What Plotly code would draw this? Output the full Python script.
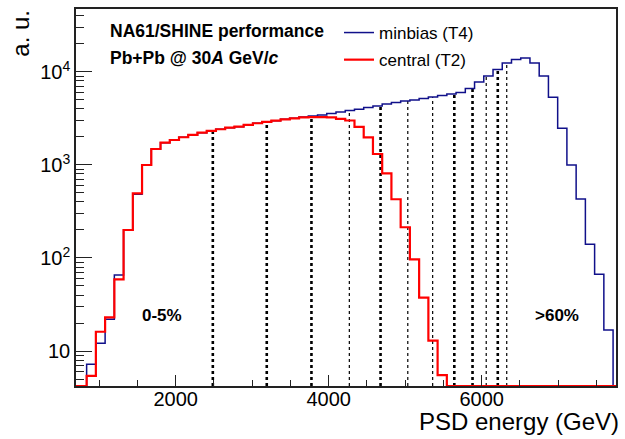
import numpy as np
import plotly.graph_objects as go

# PSD energy binning (GeV)
bin_start = 837.0
bin_width = 120.7
n_bins = 57

# Minimum-bias trigger (T4) counts per bin
minbias = [7.2, 12.1, 21.9, 65.7, 200, 484, 1000, 1486, 1738, 1857,
           1986, 2102, 2225, 2321, 2422, 2520, 2583, 2694, 2809, 2900,
           2993, 3098, 3177, 3281, 3364, 3448, 3580, 3717, 3859, 3975,
           4152, 4309, 4528, 4699, 4878, 5000, 5190, 5387, 5592, 5804,
           6025, 6650, 7805, 9056, 10640, 12500, 13620, 14150, 12500, 9056,
           5346, 2483, 1000, 430.7, 140.4, 66.8, 16.8]

# Central trigger (T2) counts per bin
central = [5.4, 16.1, 23.0, 59.0, 200, 496, 1000, 1486, 1738, 1857,
           1986, 2102, 2225, 2321, 2422, 2520, 2583, 2694, 2809, 2900,
           2993, 3098, 3177, 3243, 3265, 3265, 3243, 3126, 3007, 2563,
           1976, 1313, 814, 428, 214, 96.8, 37.4, 12.9, 5.5, 0,
           0, 0, 0, 0, 0, 0, 0, 0, 0, 0,
           0, 0, 0, 0, 0, 0, 0]

# Centrality class boundaries (GeV) and their line weight
cut_energies = [2486, 3191, 3775, 4270, 4678, 5034, 5359, 5642, 5880, 6059, 6210, 6327]
cut_heavy = [True, True, True, False, True, False, False, True, True, False, True, False]

x_range = [698, 7755]
y_range_log = [0.6237, 4.677]
floor = 10 ** y_range_log[0]

edges = bin_start + bin_width * np.arange(n_bins + 1)


def step_path(values):
    v = np.maximum(np.asarray(values, dtype=float), floor)
    xs = [x_range[0]] + list(edges[:-1]) + [edges[-1], x_range[1]]
    ys = [floor] + list(v) + [floor, floor]
    return xs, ys


fig = go.Figure()

# Dashed centrality cut lines, from the axis floor up to the minbias histogram
for e, heavy in zip(cut_energies, cut_heavy):
    idx = int((e - bin_start) // bin_width)
    top = minbias[idx]
    fig.add_trace(go.Scatter(
        x=[e, e], y=[floor, top], mode="lines", showlegend=False,
        hoverinfo="skip",
        line=dict(color="black", width=2.6 if heavy else 1.2, dash="3px,3px"),
    ))

bx, by = step_path(minbias)
fig.add_trace(go.Scatter(
    x=bx, y=by, mode="lines", line_shape="hv", name="minbias (T4)",
    legendgroup="mb", line=dict(color="#10108a", width=1.5),
))
rx, ry = step_path(central)
fig.add_trace(go.Scatter(
    x=rx, y=ry, mode="lines", line_shape="hv", name="central (T2)",
    legendgroup="ct", line=dict(color="#ff0000", width=2.2),
))

W, H = 625, 439
L, R, T, B = 76, 7, 9, 53
pw, ph = W - L - R, H - T - B


def px(x):
    return (x - L) / pw


def py(y):
    return (H - B - y) / ph


font_family = "Liberation Sans, Arial, sans-serif"

minor_y = [m * 10 ** k for k in range(0, 5) for m in range(2, 10)]

fig.update_layout(
    width=W, height=H,
    margin=dict(l=L, r=R, t=T, b=B),
    paper_bgcolor="white", plot_bgcolor="white",
    font=dict(family=font_family, color="black"),
    showlegend=True,
    legend=dict(
        x=px(340), y=py(15), xanchor="left", yanchor="top",
        bgcolor="rgba(0,0,0,0)", font=dict(size=17, family=font_family),
        tracegroupgap=2, itemwidth=30,
    ),
    xaxis=dict(
        range=x_range, showgrid=False, zeroline=False,
        showline=True, linecolor="#222", linewidth=1.5, mirror=True,
        ticks="inside", ticklen=11, tickwidth=1.2, tickcolor="#222",
        tickvals=[2000, 4000, 6000], ticktext=["2000", "4000", "6000"],
        tickfont=dict(size=20), ticklabelstandoff=-6,
        minor=dict(ticks="inside", ticklen=6, tickwidth=1.2, tickcolor="#222",
                   dtick=500, tick0=0, showgrid=False),
    ),
    yaxis=dict(
        type="log", range=y_range_log, showgrid=False, zeroline=False,
        showline=True, linecolor="#222", linewidth=1.5, mirror=True,
        ticks="inside", ticklen=16, tickwidth=1.2, tickcolor="#222",
        tickvals=[10, 100, 1000, 10000],
        ticktext=["10", "10<sup>2</sup>", "10<sup>3</sup>", "10<sup>4</sup>"],
        tickfont=dict(size=20),
        minor=dict(ticks="inside", ticklen=8, tickwidth=1.2, tickcolor="#222",
                   tickvals=minor_y, showgrid=False),
    ),
    annotations=[
        dict(text="<b>NA61/SHINE performance</b>", x=px(108), y=py(31),
             xref="paper", yref="paper", xanchor="left", yanchor="middle",
             showarrow=False, font=dict(size=17.5)),
        dict(text="<b>Pb+Pb @ 30<i>A</i> GeV/<i>c</i></b>", x=px(108), y=py(58),
             xref="paper", yref="paper", xanchor="left", yanchor="middle",
             showarrow=False, font=dict(size=17.5)),
        dict(text="<b>0-5%</b>", x=px(162), y=py(315),
             xref="paper", yref="paper", xanchor="center", yanchor="middle",
             showarrow=False, font=dict(size=17)),
        dict(text="<b>&gt;60%</b>", x=px(559), y=py(315),
             xref="paper", yref="paper", xanchor="center", yanchor="middle",
             showarrow=False, font=dict(size=17)),
        dict(text="PSD energy (GeV)", x=px(623), y=py(421),
             xref="paper", yref="paper", xanchor="right", yanchor="middle",
             showarrow=False, font=dict(size=24)),
        dict(text="a. u.", x=px(20), y=py(8), textangle=-90,
             xref="paper", yref="paper", xanchor="center", yanchor="top",
             showarrow=False, font=dict(size=24)),
    ],
)

fig.write_html("out.html")
